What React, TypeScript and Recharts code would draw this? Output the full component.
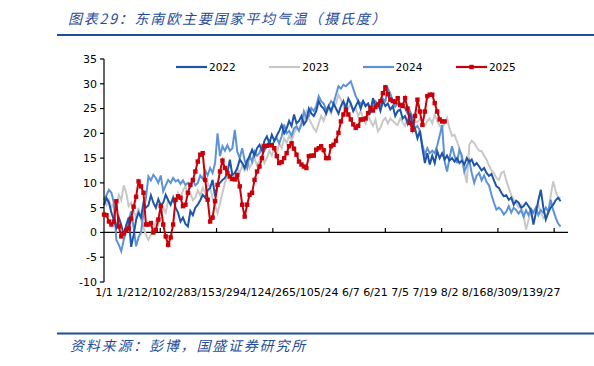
import React from 'react';
import { LineChart, Line, XAxis, YAxis, ReferenceLine, Legend } from 'recharts';

const X_LABELS = ['1/1', '1/21', '2/10', '2/28', '3/15', '3/29', '4/12', '4/26', '5/10', '5/24', '6/7', '6/21', '7/5', '7/19', '8/2', '8/16', '8/30', '9/13', '9/27'];
const X_LABEL_TICKS = [0, 10, 20, 30, 40, 50, 60, 70, 80, 90, 100, 110, 120, 130, 140, 150, 160, 170, 180];
const X_MARK_TICKS = [22.8, 45.6, 68.4, 91.2, 114, 136.8, 159.6, 182.4];
const Y_TICKS = [-10, -5, 0, 5, 10, 15, 20, 25, 30, 35];

const T2022 = [
  5.5, 7.0, 6.0, 4.0, 2.5, 1.0, 3.0, 1.5, -0.5, 1.5,
  3.0, -2.9, -0.5, 2.5, 4.0, 3.0, 6.0, 5.0, 5.5, 7.5,
  6.0, 5.0, 6.7, 5.5, 6.0, 7.6, 6.5, 5.6, 7.0, 5.0,
  4.0, 2.2, 3.0, 1.7, 1.2, 4.3, 3.5, 5.0, 5.6, 6.5,
  7.6, 7.0, 8.5, 9.0, 10.6, 7.3, 9.6, 10.0, 10.6, 11.0,
  12.0, 14.7, 11.6, 12.0, 13.0, 14.7, 14.0, 13.0, 14.5, 15.4,
  16.7, 15.5, 17.0, 17.7, 16.5, 18.5, 19.4, 18.0, 19.7, 18.5,
  19.5, 20.5, 21.7, 20.0, 21.0, 22.5, 21.5, 23.8, 22.0, 22.5,
  23.5, 21.8, 22.5, 25.0, 24.0, 23.5, 24.5, 26.5, 25.5, 25.0,
  24.0, 25.5, 24.5, 26.0, 25.0, 24.0, 25.5, 26.5, 25.0, 27.0,
  26.0, 24.5, 25.5, 26.5, 25.0, 26.5, 25.5, 26.0, 24.5, 27.1,
  25.5, 26.0, 24.5, 26.5, 25.5, 26.0, 24.8, 25.5, 23.5, 24.5,
  24.8, 23.0, 23.5, 22.0, 24.0, 22.0, 21.0, 19.0, 20.5, 17.0,
  14.0, 16.0, 13.7, 15.5, 14.0, 16.4, 15.0, 16.0, 14.7, 15.5,
  14.5, 15.0, 14.3, 15.0, 14.0, 14.5, 13.7, 15.0, 14.2, 14.7,
  13.5, 14.0, 13.3, 12.5, 13.0, 12.0, 11.4, 11.8, 10.5, 9.3,
  9.0, 8.0, 7.3, 7.5, 6.6, 7.0, 5.6, 6.4, 6.0, 5.0,
  5.3, 6.0, 5.3, 4.5, 1.6, 4.0, 6.5, 8.6, 5.0, 2.6,
  4.0, 5.0, 5.6, 6.5, 7.0, 6.3,
];

const T2023 = [
  7.0, 5.5, 6.5, 5.0, 6.0, 5.5, 7.6, 6.5, 9.5, 8.0,
  5.3, 6.0, 4.5, 3.0, 5.0, 2.5, 1.0, -0.5, -1.5, -0.5,
  0.5, 2.2, 1.5, 3.5, 5.0, 4.0, 6.5, 5.5, 7.0, 6.0,
  8.0, 7.0, 8.5, 9.3, 7.5, 8.0, 6.5, 7.0, 8.5, 7.5,
  9.0, 8.0, 10.0, 9.0, 7.0, 5.5, 3.9, 5.9, 8.0, 10.0,
  11.5, 10.5, 12.0, 11.0, 13.0, 12.0, 13.5, 12.5, 14.5, 13.0,
  14.0, 15.0, 13.5, 14.5, 15.5, 14.0, 15.0, 16.5, 15.5, 17.0,
  16.0, 18.0, 17.0, 19.0, 18.0, 19.5, 18.5, 20.0, 21.0, 20.7,
  21.5, 22.5, 24.4, 23.0, 22.0, 21.0, 20.4, 22.0, 23.5, 22.5,
  24.0, 25.0, 24.0, 25.5, 26.0, 27.8, 26.8, 25.5, 26.0, 25.0,
  26.0, 24.5, 25.0, 23.5, 24.5, 23.0, 22.0, 23.5, 22.5, 21.5,
  22.7, 20.4, 21.1, 22.5, 23.1, 22.0, 23.0, 22.5, 22.0, 21.7,
  23.0, 22.2, 21.5, 23.0, 22.5, 21.7, 22.5, 22.2, 23.0, 22.2,
  21.5, 22.5, 23.0, 22.0, 23.8, 22.5, 21.5, 21.1, 22.0, 23.1,
  21.0, 19.5, 19.7, 18.4, 17.0, 14.5, 12.3, 10.0, 17.7, 18.5,
  18.0, 17.2, 16.5, 16.4, 15.5, 14.7, 13.5, 12.5, 12.0, 11.0,
  10.6, 12.0, 12.3, 10.5, 9.0, 7.5, 6.6, 6.0, 5.0, 5.5,
  3.5, 0.6, 2.5, 4.5, 4.0, 5.0, 5.6, 4.0, 2.9, 3.5,
  4.0, 7.5, 10.3, 8.3, 7.0, 7.0,
];

const T2024 = [
  6.6, 7.5, 8.6, 8.0, 6.0, -1.5, -2.5, -3.8, -1.5, 0.2,
  2.4, 4.3, 1.0, -2.8, -1.0, 0.0, 4.0, 7.0, 11.3, 10.5,
  11.6, 11.0, 10.0, 11.5, 8.3, 9.5, 10.6, 10.0, 11.0, 10.3,
  10.6, 9.8, 10.5, 9.6, 10.0, 9.2, 10.5, 9.5, 10.0, 11.5,
  10.8, 12.5, 11.5, 13.0, 12.0, 14.0, 20.0, 15.4, 17.4, 16.5,
  17.6, 16.5, 17.0, 20.7, 16.3, 15.0, 17.0, 14.5, 13.0, 15.5,
  14.3, 16.4, 15.5, 16.0, 17.5, 16.5, 17.5, 18.4, 17.5, 18.5,
  19.0, 18.0, 19.4, 21.8, 20.0, 20.5, 19.5, 21.0, 21.4, 20.5,
  22.0, 24.4, 23.0, 23.5, 25.1, 24.5, 25.5, 27.5, 26.5, 26.0,
  24.8, 25.5, 26.5, 26.0, 27.8, 29.5, 29.0, 29.8, 29.5, 30.0,
  30.5, 29.0, 27.5, 26.5, 26.0, 26.5, 25.5, 26.0, 25.0, 26.0,
  26.5, 26.0, 25.5, 27.0, 26.5, 29.1, 28.0, 26.5, 25.4, 26.0,
  25.5, 26.0, 25.0, 24.0, 24.5, 23.1, 21.0, 21.5, 20.5, 17.7,
  15.7, 17.0, 16.0, 16.5, 16.0, 17.5, 19.5, 21.7, 14.3, 12.3,
  15.0, 17.4, 15.5, 14.0, 16.7, 15.5, 12.3, 13.5, 14.5, 12.0,
  10.0, 11.5, 12.0, 10.5, 11.5, 10.2, 9.5, 7.6, 6.0, 4.6,
  5.0, 4.5, 3.6, 4.2, 5.3, 4.0, 5.0, 4.5, 3.8, 4.5,
  3.2, 4.5, 3.5, 4.8, 4.0, 5.0, 3.5, 4.5, 4.0, 5.0,
  4.2, 6.6, 4.5, 3.0, 1.8, 1.2,
];

const T2025 = [
  3.6, 3.5, 2.2, 1.6, 2.2, 6.3, 1.2, -0.8, -0.2, 0.4,
  0.8, 2.8, 5.2, 7.2, 10.3, 9.3, 8.0, 1.6, 1.6, 1.9,
  0.0, 0.5, 2.6, 5.3, 1.6, -0.8, -2.5, -1.0, 1.6, 6.6,
  7.3, 7.0, 5.3, 5.6, 8.0, 9.6, 10.6, 12.3, 14.3, 15.7,
  16.0, 10.6, 6.6, 2.2, 3.0, 6.3, 9.6, 12.3, 14.5, 13.0,
  12.0, 11.3, 10.8, 10.7, 11.6, 9.3, 5.6, 3.2, 5.6, 7.6,
  8.0, 10.6, 12.3, 13.3, 15.0, 17.4, 17.5, 17.6, 17.6, 17.0,
  15.4, 14.0, 14.2, 15.0, 16.0, 17.4, 18.0, 16.9, 15.7, 14.3,
  13.7, 13.3, 13.0, 15.4, 15.5, 15.5, 16.7, 17.0, 17.4, 16.6,
  15.0, 15.0, 17.4, 17.7, 18.5, 20.1, 22.4, 23.8, 24.8, 23.8,
  22.8, 21.8, 21.1, 21.5, 22.8, 22.8, 23.0, 24.1, 25.1, 24.6,
  25.3, 25.8, 26.5, 28.1, 29.3, 27.9, 26.8, 26.5, 26.3, 27.1,
  25.7, 25.5, 27.1, 25.0, 22.1, 20.7, 23.5, 26.8, 24.4, 21.7,
  24.4, 27.5, 27.8, 27.8, 26.1, 24.4, 22.8, 22.4, 22.4,
];

const SERIES = [
  { key: 'y2022', name: '2022', color: '#1F55A8', marker: false },
  { key: 'y2023', name: '2023', color: '#C8C8C8', marker: false },
  { key: 'y2024', name: '2024', color: '#5C93D6', marker: false },
  { key: 'y2025', name: '2025', color: '#C8000A', marker: true },
];

const data = T2022.map((v, i) => ({
  i,
  y2022: v,
  y2023: T2023[i] ?? null,
  y2024: T2024[i] ?? null,
  y2025: i < T2025.length ? T2025[i] : null,
}));

const SquareDot = (props: any) => {
  const { cx, cy, index, payload } = props;
  if (cx == null || cy == null || payload == null || payload.y2025 == null) {
    return <g key={`d${index}`} />;
  }
  return <rect key={`d${index}`} x={cx - 2.2} y={cy - 2.2} width={4.4} height={4.4} fill="#C8000A" />;
};

const LegendContent = () => (
  <div style={{ display: 'flex', fontFamily: 'DejaVu Sans', fontSize: 10.5, color: '#000', height: 12 }}>
    {SERIES.map((s) => (
      <div key={s.key} style={{ display: 'flex', alignItems: 'center', width: 93.3, height: 12 }}>
        <svg width={31} height={10} style={{ display: 'block' }}>
          <line x1={0} x2={31} y1={5} y2={5} stroke={s.color} strokeWidth={2.2} />
          {s.marker && <rect x={13.3} y={2.8} width={4.4} height={4.4} fill={s.color} />}
        </svg>
        <span style={{ marginLeft: 2, lineHeight: '12px' }}>{s.name}</span>
      </div>
    ))}
  </div>
);

const TITLE = '图表29：东南欧主要国家平均气温（摄氏度）';
const SOURCE = '资料来源：彭博，国盛证券研究所';

export default function App() {
  return (
    <div style={{ position: 'absolute', left: 0, top: 0, width: 594, height: 366, background: '#fff' }}>
      <LineChart width={594} height={366} data={data} margin={{ top: 59, right: 26, bottom: 54, left: 0 }}>
        <XAxis
          type="number"
          dataKey="i"
          domain={[0, 188]}
          ticks={X_LABEL_TICKS}
          interval={0}
          tickFormatter={(v: number) => X_LABELS[Math.round(v / 10)] ?? ''}
          axisLine={false}
          tickLine={false}
          tickSize={0}
          tickMargin={6}
          height={30}
          tick={{ fontSize: 11, fill: '#000', fontFamily: 'DejaVu Sans' }}
        />
        <YAxis
          type="number"
          domain={[-10, 35]}
          ticks={Y_TICKS}
          interval={0}
          width={104}
          tickSize={4}
          tickMargin={3}
          axisLine={{ stroke: '#000', strokeWidth: 1.2 }}
          tickLine={{ stroke: '#000', strokeWidth: 1.2 }}
          tick={{ fontSize: 11, fill: '#000', fontFamily: 'DejaVu Sans' }}
        />
        <ReferenceLine y={0} stroke="#000" strokeWidth={1.2} />
        {X_MARK_TICKS.map((t) => (
          <ReferenceLine key={`t${t}`} segment={[{ x: t, y: 0 }, { x: t, y: 0.9 }]} stroke="#000" strokeWidth={1.2} />
        ))}
        <Legend verticalAlign="middle" align="center" layout="horizontal" content={LegendContent} wrapperStyle={{ top: 61, left: 176, width: 380, height: 12 }} />
        <Line dataKey="y2023" stroke="#C8C8C8" strokeWidth={2} dot={false} isAnimationActive={false} />
        <Line dataKey="y2024" stroke="#5C93D6" strokeWidth={2} dot={false} isAnimationActive={false} />
        <Line dataKey="y2022" stroke="#1F55A8" strokeWidth={2} dot={false} isAnimationActive={false} />
        <Line dataKey="y2025" stroke="#C8000A" strokeWidth={2} dot={SquareDot} isAnimationActive={false} />
      </LineChart>
      <svg width={594} height={366} style={{ position: 'absolute', left: 0, top: 0, pointerEvents: 'none' }}>
        <text x={68} y={23.5} fill="#1F4E9A" fontSize={14} fontStyle="italic" letterSpacing={1.8} fontFamily="'Noto Sans CJK SC', sans-serif">{TITLE}</text>
        <line x1={57} x2={594} y1={35} y2={35} stroke="#1F4E9A" strokeWidth={2} />
        <line x1={57} x2={594} y1={333.5} y2={333.5} stroke="#1F4E9A" strokeWidth={2} />
        <text x={70} y={351} fill="#1F4E9A" fontSize={14} fontStyle="italic" letterSpacing={1.8} fontFamily="'Noto Sans CJK SC', sans-serif">{SOURCE}</text>
      </svg>
    </div>
  );
}
